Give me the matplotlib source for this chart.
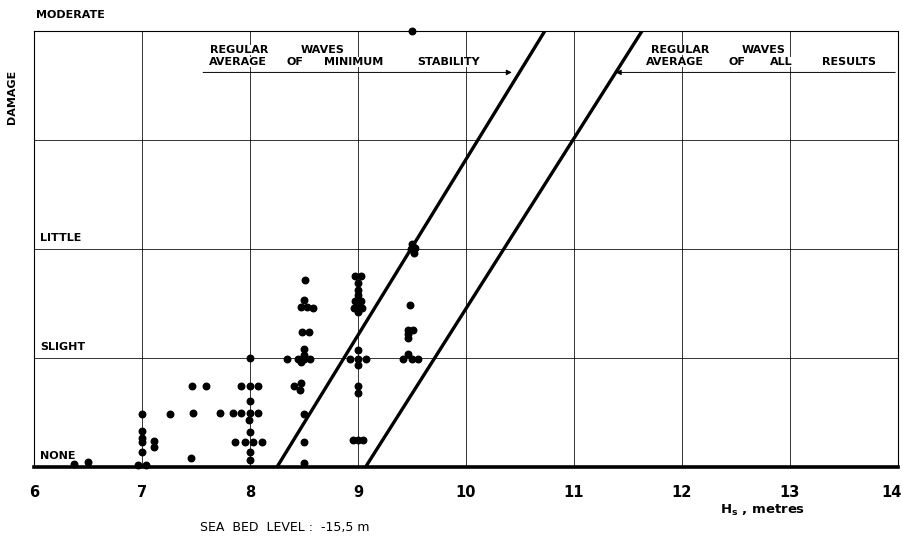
import numpy as np
import matplotlib.pyplot as plt
import matplotlib.transforms as mtransforms

# damage levels on the y axis
level_names = ["NONE", "SLIGHT", "LITTLE", "", "MODERATE"]
level_pos = [0, 1, 2, 3, 4]
x_ticks = [6, 7, 8, 9, 10, 11, 12, 13, 14]

# test results: Hs (m) and damage level
hs = [6.37, 6.50,
      7.00, 7.00, 7.00, 7.00, 7.00, 6.96, 7.04, 7.11, 7.11,
      7.26, 7.46, 7.59, 7.47, 7.72, 7.84, 7.45,
      8.00, 7.92, 8.00, 8.07, 8.00, 7.92, 8.00, 8.07, 7.99, 8.00,
      7.86, 7.95, 8.03, 8.11, 8.00, 8.00,
      8.34, 8.44, 8.50, 8.56, 8.50, 8.47, 8.50, 8.48, 8.55,
      8.50, 8.47, 8.53, 8.58, 8.51, 8.41, 8.46, 8.47, 8.50, 8.50, 8.50,
      8.97, 9.03, 9.00, 9.00, 9.00, 8.97, 9.03, 8.96, 9.00, 9.04, 9.00,
      9.00, 8.93, 9.00, 9.07, 9.00, 9.00, 9.00, 8.95, 9.00, 9.05,
      9.50, 9.53, 9.52, 9.49, 9.48, 9.46, 9.51, 9.46, 9.46, 9.46,
      9.42, 9.50, 9.56,
      9.50]
damage = [0.03, 0.05,
          0.49, 0.33, 0.27, 0.23, 0.14, 0.02, 0.02, 0.24, 0.18,
          0.49, 0.74, 0.74, 0.50, 0.50, 0.50, 0.08,
          1.00, 0.74, 0.74, 0.74, 0.61, 0.50, 0.50, 0.50, 0.43, 0.32,
          0.23, 0.23, 0.23, 0.23, 0.14, 0.06,
          0.99, 0.99, 0.99, 0.99, 1.03, 0.96, 1.08, 1.24, 1.24,
          1.53, 1.47, 1.47, 1.46, 1.72, 0.74, 0.71, 0.77, 0.49, 0.23, 0.04,
          1.75, 1.75, 1.69, 1.62, 1.58, 1.52, 1.52, 1.46, 1.47, 1.46, 1.42,
          1.07, 0.99, 0.99, 0.99, 0.94, 0.74, 0.68, 0.25, 0.25, 0.25,
          2.05, 2.01, 1.96, 2.00, 1.49, 1.26, 1.26, 1.22, 1.18, 1.04,
          0.99, 0.99, 0.99,
          4.00]

# the two design lines (Hs at damage 0 and at damage 4)
min_stab_hs = [8.25, 10.73]
all_res_hs = [9.07, 11.63]
line_dmg = [0, 4]

# label words for the two lines: (word, centre Hs, damage)
label_min = [("REGULAR", 7.90, 3.83), ("WAVES", 8.67, 3.83),
             ("AVERAGE", 7.89, 3.715), ("OF", 8.42, 3.715),
             ("MINIMUM", 8.96, 3.715), ("STABILITY", 9.84, 3.715)]
label_all = [("REGULAR", 11.98, 3.83), ("WAVES", 12.76, 3.83),
             ("AVERAGE", 11.93, 3.715), ("OF", 12.51, 3.715),
             ("ALL", 12.92, 3.715), ("RESULTS", 13.55, 3.715)]

fig = plt.figure(figsize=(9.04, 5.41), dpi=100)
ax = fig.add_axes([34 / 904, 74 / 541, 864 / 904, 436 / 541])
ax.set_xlim(6, 14)
ax.set_ylim(0, 4)

# grid
for x in x_ticks[1:-1]:
    ax.axvline(x, color="k", lw=0.7, alpha=0.8, zorder=1)
for y in level_pos[1:-1]:
    ax.axhline(y, color="k", lw=0.7, alpha=0.8, zorder=1)

ax.plot(min_stab_hs, line_dmg, color="k", lw=2.4, zorder=3)
ax.plot(all_res_hs, line_dmg, color="k", lw=2.4, zorder=3)
ax.scatter(hs, damage, s=22, color="k", zorder=4, clip_on=False)

for side in ["top", "left", "right"]:
    ax.spines[side].set_linewidth(0.8)
ax.spines["bottom"].set_linewidth(2.6)

ax.set_xticks(x_ticks)
ax.set_xticklabels([str(t) for t in x_ticks], fontsize=10.5, fontweight="bold")
ax.tick_params(axis="x", length=0, pad=13)
ax.set_yticks([])
# last label sits on the edge, pull it in a little
last = ax.get_xticklabels()[-1]
last.set_transform(last.get_transform() + mtransforms.ScaledTranslation(-6 / 100, 0, fig.dpi_scale_trans))

# damage level labels
for name, pos in zip(level_names, level_pos):
    if name == "":
        continue
    if name == "MODERATE":
        ax.text(6.02, 4.15, name, fontsize=8, fontweight="bold", va="center", clip_on=False)
    else:
        ax.text(6.055, pos + 0.1, name, fontsize=8, fontweight="bold", va="center")

fig.text(12 / 904, 1 - 97 / 541, "DAMAGE", rotation=90, fontsize=8,
         fontweight="bold", ha="center", va="center")

# annotations for the lines
wb = dict(facecolor="white", edgecolor="none", pad=0)
for word, x, y in label_min + label_all:
    ax.text(x, y, word, fontsize=8, fontweight="bold", ha="center", va="center",
            bbox=wb, zorder=2)
ax.annotate("", xy=(10.45, 3.62), xytext=(7.54, 3.62),
            arrowprops=dict(arrowstyle="-|>", color="k", lw=0.7, mutation_scale=8), zorder=2)
ax.annotate("", xy=(11.36, 3.62), xytext=(14.0, 3.62),
            arrowprops=dict(arrowstyle="-|>", color="k", lw=0.7, mutation_scale=8), zorder=2)

fig.text(720 / 904, 1 - 510 / 541, r"$\mathbf{H_s}$ , metres", fontsize=9.5,
         fontweight="bold", va="center")
fig.text(200 / 904, 1 - 527 / 541, "SEA  BED  LEVEL :  -15,5 m", fontsize=9, va="center")

fig.savefig("out.png", dpi=100)
